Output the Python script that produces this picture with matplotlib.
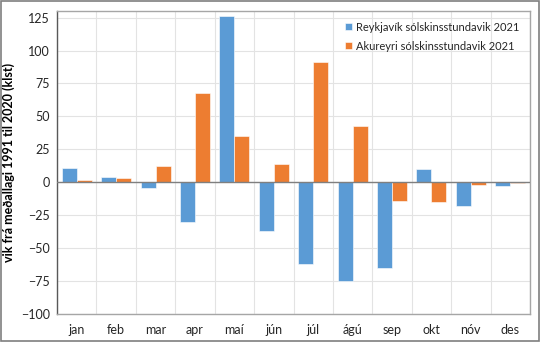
import matplotlib
matplotlib.use("Agg")
import matplotlib.pyplot as plt
import numpy as np
from matplotlib.patches import Rectangle

months = ["jan", "feb", "mar", "apr", "maí", "jún", "júl", "ágú", "sep", "okt", "nóv", "des"]
reykjavik = [11, 4, -4, -30, 126, -37, -62, -75, -65, 10, -18, -2.5]
akureyri = [2, 3, 12, 68, 35, 14, 91, 43, -14, -15, -2, -0.5]
yticks = [125, 100, 75, 50, 25, 0, -25, -50, -75, -100]

plt.rcParams["font.family"] = ["Lato", "DejaVu Sans"]

fig = plt.figure(figsize=(5.4, 3.42), dpi=100)
left, right, top, bottom = 57, 530, 11, 314
ax = fig.add_axes([left / 540, 1 - bottom / 342, (right - left) / 540, (bottom - top) / 342])

x = np.arange(len(months))
w = 0.38
ax.bar(x - w / 2, reykjavik, w, color="#5B9BD5", edgecolor="white", linewidth=0.4,
       label="Reykjavík sólskinsstundavik 2021", zorder=3)
ax.bar(x + w / 2, akureyri, w, color="#ED7D31", edgecolor="white", linewidth=0.4,
       label="Akureyri sólskinsstundavik 2021", zorder=3)

ax.set_xlim(-0.5, len(months) - 0.5)
ax.set_ylim(-100, 130)
ax.set_yticks(yticks)
ax.set_xticks(x)
ax.set_xticklabels(months)
ax.set_xticks(np.arange(len(months) + 1) - 0.5, minor=True)

ax.grid(True, which="major", axis="y", color="#E3E3E3", linewidth=0.8, zorder=0)
ax.grid(True, which="minor", axis="x", color="#E3E3E3", linewidth=0.8, zorder=0)
ax.axhline(0, color="#7F7F7F", linewidth=1.0, zorder=4)

ax.tick_params(axis="both", which="both", length=0, labelsize=9, colors="#262626")
ax.tick_params(axis="x", pad=7)
ax.tick_params(axis="y", pad=5)

for side in ["top", "right", "bottom"]:
    ax.spines[side].set_color("#A6A6A6")
    ax.spines[side].set_linewidth(1.0)
ax.spines["left"].set_color("#595959")
ax.spines["left"].set_linewidth(1.0)

ax.set_ylabel("vik frá meðallagi 1991 til 2020 (klst)", fontsize=9, fontweight="bold",
              color="#000000")
ax.yaxis.set_label_coords(-(left - 15) / (right - left), (bottom - 162) / (bottom - top))

leg = ax.legend(loc="upper right", frameon=False, fontsize=8, handlelength=0.6,
                handleheight=0.6, handletextpad=0.4, labelspacing=0.7,
                bbox_to_anchor=(0.995, 0.99), borderaxespad=0.3)
for t in leg.get_texts():
    t.set_color("#262626")

fig.patches.append(Rectangle((0.002, 0.003), 0.996, 0.994, transform=fig.transFigure,
                             fill=False, edgecolor="#7F7F7F", linewidth=1.2))

fig.savefig("out.png", dpi=100)
